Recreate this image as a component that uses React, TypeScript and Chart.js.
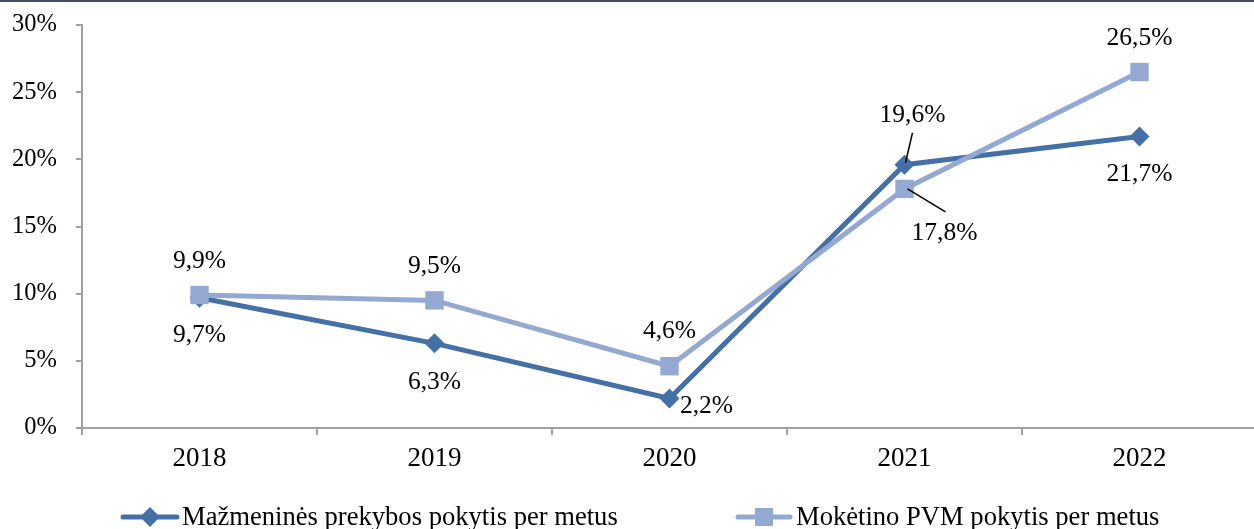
import React, { useEffect, useRef } from "react";
import { Chart, registerables } from "chart.js";
Chart.register(...registerables);

const categories = ["2018", "2019", "2020", "2021", "2022"];
const retailChange = [9.7, 6.3, 2.2, 19.6, 21.7];
const vatChange = [9.9, 9.5, 4.6, 17.8, 26.5];
const yMin = 0;
const yMax = 30;
const yStep = 5;
const seriesNames = [
  "Mažmeninės prekybos pokytis per metus",
  "Mokėtino PVM pokytis per metus",
];

const DARK = "#4570a6";
const LIGHT = "#93a9d2";
const FONT = "'Liberation Serif', 'Times New Roman', serif";

// label offsets from the point, in px (style only)
const retailLabelOffsets = [[0, 38], [0, 39], [37, 8], [8, -49], [0, 38]];
const vatLabelOffsets = [[0, -34], [0, -34], [0, -35], [40, 44], [0, -34]];
// leader lines: [fromDx, fromDy, toDx, toDy]
const retailLeaders: Record<number, number[]> = { 3: [1, -2, 8, -32] };
const vatLeaders: Record<number, number[]> = { 3: [3, 0, 41, 23] };

const fmt = (v: number) => v.toFixed(1).replace(".", ",") + "%";

const decorPlugin = {
  id: "decor",
  afterDraw(chart: any) {
    const ctx = chart.ctx;
    ctx.save();
    // top border
    ctx.fillStyle = "#424e5e";
    ctx.fillRect(0, 0, chart.width, 2);

    // data labels
    ctx.font = `25.5px ${FONT}`;
    ctx.fillStyle = "#000";
    ctx.textAlign = "center";
    ctx.textBaseline = "middle";
    const sets = [
      { idx: 0, data: retailChange, off: retailLabelOffsets, lead: retailLeaders },
      { idx: 1, data: vatChange, off: vatLabelOffsets, lead: vatLeaders },
    ];
    sets.forEach((s) => {
      const meta = chart.getDatasetMeta(s.idx);
      meta.data.forEach((pt: any, i: number) => {
        const [dx, dy] = s.off[i];
        ctx.fillText(fmt(s.data[i]), pt.x + dx, pt.y + dy);
        const l = s.lead[i];
        if (l) {
          ctx.strokeStyle = "#000";
          ctx.lineWidth = 1.5;
          ctx.beginPath();
          ctx.moveTo(pt.x + l[0], pt.y + l[1]);
          ctx.lineTo(pt.x + l[2], pt.y + l[3]);
          ctx.stroke();
        }
      });
    });

    // legend
    const ly = 517;
    const items = [
      { x0: 123, x1: 177, tx: 182, color: DARK, style: "diamond", name: seriesNames[0] },
      { x0: 738, x1: 790, tx: 796, color: LIGHT, style: "square", name: seriesNames[1] },
    ];
    items.forEach((it) => {
      ctx.strokeStyle = it.color;
      ctx.lineWidth = 5;
      ctx.lineCap = "round";
      ctx.beginPath();
      ctx.moveTo(it.x0, ly);
      ctx.lineTo(it.x1, ly);
      ctx.stroke();
      ctx.fillStyle = it.color;
      const cx = (it.x0 + it.x1) / 2;
      if (it.style === "diamond") {
        ctx.beginPath();
        ctx.moveTo(cx, ly - 10);
        ctx.lineTo(cx + 10, ly);
        ctx.lineTo(cx, ly + 10);
        ctx.lineTo(cx - 10, ly);
        ctx.closePath();
        ctx.fill();
      } else {
        ctx.fillRect(cx - 9, ly - 9, 18, 18);
      }
      ctx.fillStyle = "#000";
      ctx.textAlign = "left";
      ctx.font = `26.6px ${FONT}`;
      ctx.fillText(it.name, it.tx, ly + 1);
    });
    ctx.restore();
  },
};

export default function App() {
  const ref = useRef<HTMLCanvasElement | null>(null);
  useEffect(() => {
    if (!ref.current) return;
    const chart = new Chart(ref.current, {
      type: "line",
      data: {
        labels: categories,
        datasets: [
          {
            label: seriesNames[0],
            data: retailChange,
            borderColor: DARK,
            backgroundColor: DARK,
            borderWidth: 5,
            pointStyle: "rectRot",
            pointRadius: 10,
            pointBorderWidth: 0,
            pointBackgroundColor: DARK,
            tension: 0,
            order: 1,
            clip: false,
          },
          {
            label: seriesNames[1],
            data: vatChange,
            borderColor: LIGHT,
            backgroundColor: LIGHT,
            borderWidth: 5,
            pointStyle: "rect",
            pointRadius: 13,
            pointBorderWidth: 0,
            pointBackgroundColor: LIGHT,
            tension: 0,
            order: 0,
            clip: false,
          },
        ],
      },
      options: {
        responsive: false,
        animation: false,
        devicePixelRatio: 1,
        layout: { autoPadding: false, padding: { top: 25, right: 0, left: 0, bottom: 0 } },
        plugins: {
          legend: { display: false },
          tooltip: { enabled: false },
        },
        scales: {
          x: {
            type: "category",
            offset: true,
            grid: {
              offset: true,
              drawOnChartArea: false,
              drawTicks: true,
              tickLength: 7,
              color: "#a0a0a0",
              lineWidth: 2,
            },
            border: { color: "#a0a0a0", width: 2 },
            ticks: {
              padding: 8,
              color: "#000",
              font: { family: FONT, size: 27 },
              maxRotation: 0,
            },
            afterFit: (s: any) => {
              s.height = 101;
              s.paddingLeft = 0;
              s.paddingRight = 0;
            },
          },
          y: {
            min: yMin,
            max: yMax,
            ticks: {
              stepSize: yStep,
              padding: 19,
              color: "#000",
              font: { family: FONT, size: 24.5 },
              callback: (v: any) => v + "%",
            },
            grid: {
              drawOnChartArea: false,
              drawTicks: true,
              tickLength: 6,
              color: "#a0a0a0",
              lineWidth: 2,
            },
            border: { color: "#a0a0a0", width: 2 },
            afterFit: (s: any) => {
              s.width = 82;
              s.paddingTop = 0;
              s.paddingBottom = 0;
            },
          },
        },
      },
      plugins: [decorPlugin],
    });
    return () => chart.destroy();
  }, []);
  return (
    <div style={{ position: "absolute", left: 0, top: 0, width: 1254, height: 529, overflow: "hidden", background: "#fff" }}>
      <canvas ref={ref} width={1257} height={529} style={{ display: "block" }} />
    </div>
  );
}
